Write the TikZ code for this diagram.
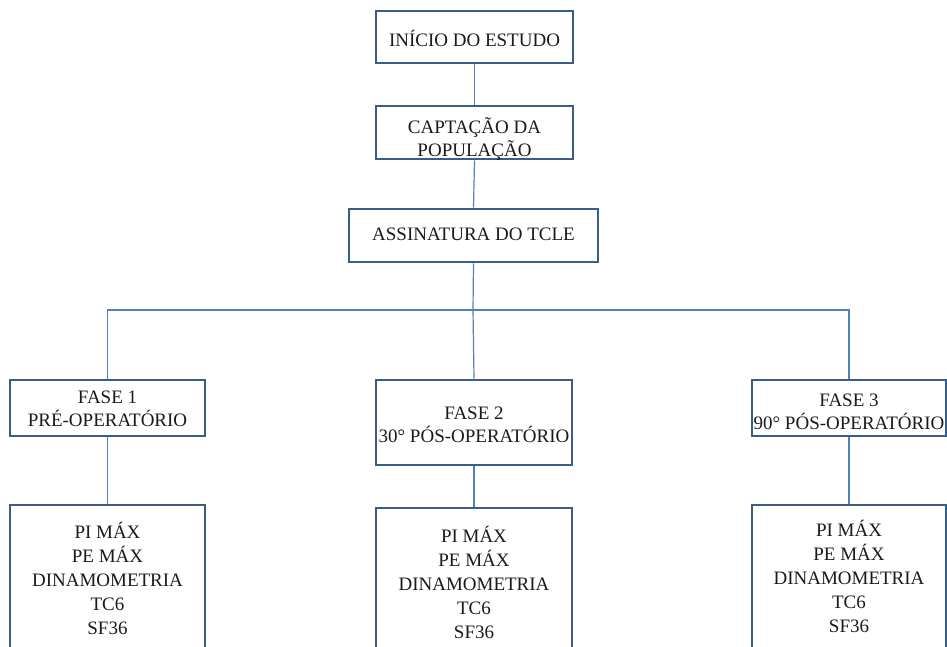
\documentclass[tikz,border=0pt]{standalone}
\usepackage{fontspec}
\setmainfont{Liberation Serif}
\definecolor{boxline}{HTML}{385D8A}
\definecolor{linkline}{HTML}{4F81BD}
\definecolor{txt}{HTML}{1A1A1A}
\begin{document}
\begin{tikzpicture}[x=1pt,y=-1pt,
  box/.style={draw=boxline, line width=2.6pt, rectangle, inner sep=0pt},
  lbl/.style={align=center, inner sep=0pt, text=txt, font=\fontsize{19}{23}\selectfont},
  lbltall/.style={lbl, font=\fontsize{19}{24}\selectfont},
  link/.style={draw=linkline, line width=1.2pt}]
\useasboundingbox (0,0) rectangle (947,647);
\clip (0,0) rectangle (947,647);
% boxes
\node[box, minimum width=197pt, minimum height=52pt] (inicio) at (474.5,37) {};
\node[box, minimum width=197pt, minimum height=53pt] (capt) at (474.5,132.5) {};
\node[box, minimum width=249pt, minimum height=53pt] (tcle) at (473.5,235.5) {};
\coordinate (hub) at (473,310);
\node[box, minimum width=195pt, minimum height=56pt] (f1) at (107.5,408) {};
\node[box, minimum width=196pt, minimum height=85pt] (f2) at (474,422.5) {};
\node[box, minimum width=194pt, minimum height=56pt] (f3) at (849,408) {};
\node[box, minimum width=195pt, minimum height=150pt] (m1) at (107.5,580) {};
\node[box, minimum width=196pt, minimum height=150pt] (m2) at (474,583) {};
\node[box, minimum width=194pt, minimum height=150pt] (m3) at (849,580) {};
% labels
\node[lbl] (tinicio) at (474.5,38) {INÍCIO DO ESTUDO};
\node[lbl] (tcapt) at (474.5,139.5) {CAPTAÇÃO DA\\POPULAÇÃO};
\node[lbl] (ttcle) at (473.5,234) {ASSINATURA DO TCLE};
\node[lbl] (tf1) at (107.5,408.5) {FASE 1\\PRÉ-OPERATÓRIO};
\node[lbl] (tf2) at (474,425) {FASE 2\\30° PÓS-OPERATÓRIO};
\node[lbl] (tf3) at (849,412) {FASE 3\\90° PÓS-OPERATÓRIO};
\node[lbltall] (tm1) at (107.5,578) {PI MÁX\\PE MÁX\\DINAMOMETRIA\\TC6\\SF36};
\node[lbltall] (tm2) at (474,582) {PI MÁX\\PE MÁX\\DINAMOMETRIA\\TC6\\SF36};
\node[lbltall] (tm3) at (849,576) {PI MÁX\\PE MÁX\\DINAMOMETRIA\\TC6\\SF36};
% connectors
\draw[link] (inicio.south) -- (capt.north);
\draw[link] (capt.south) -- (tcle.north);
\draw[link] (tcle.south) -- (hub);
\draw[link] (f1.north) |- (hub) -| (f3.north);
\draw[link] (hub) -- (f2.north);
\draw[link] (f1.south) -- (m1.north);
\draw[link] (f2.south) -- (m2.north);
\draw[link] (f3.south) -- (m3.north);
\end{tikzpicture}
\end{document}
